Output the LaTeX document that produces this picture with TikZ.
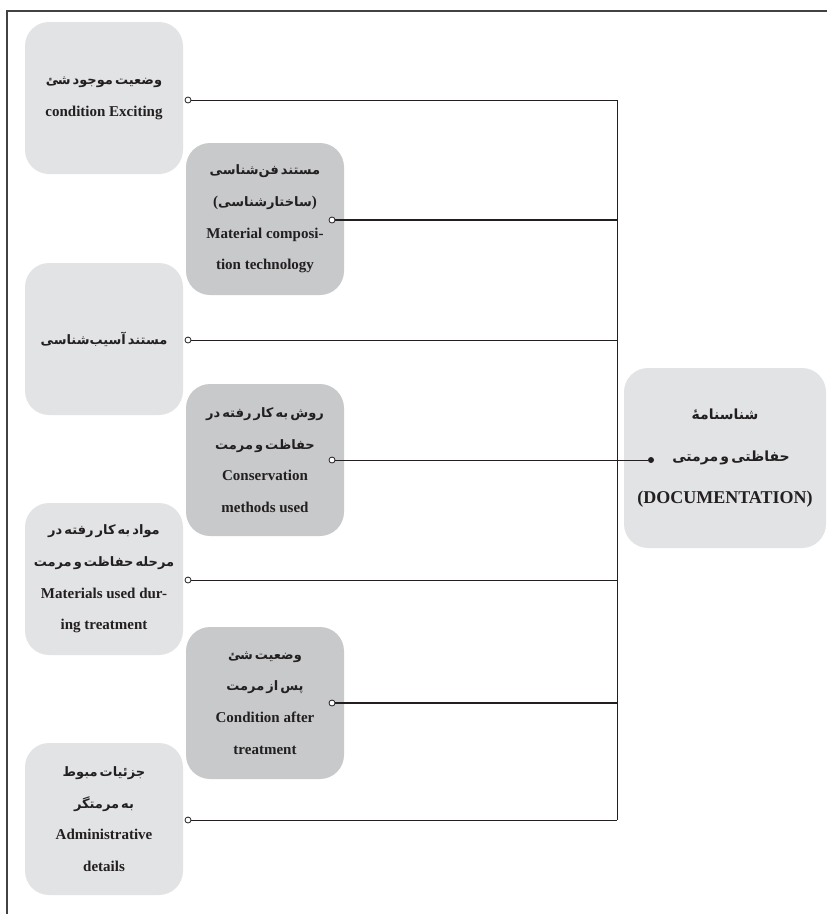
\documentclass[tikz,border=0pt]{standalone}
\usepackage{fontspec}
\setmainfont{Liberation Serif}
\newfontfamily\fa[Script=Arabic, WordSpace=0.45]{DejaVu Sans}
\TeXXeTstate=1
\definecolor{lightbox}{HTML}{E2E3E5}
\definecolor{darkbox}{HTML}{C8C9CB}
\definecolor{ink}{HTML}{231F20}
\newcommand{\fatext}[2][13]{{\fa\bfseries\fontsize{#1}{31.7}\selectfont\beginR #2\endR}}
\tikzset{
  lbox/.style={rounded corners=24pt, fill=lightbox, minimum width=158pt, minimum height=152pt,
    inner sep=0pt, align=center, text=ink, font=\bfseries\fontsize{15}{31.7}\selectfont},
  dbox/.style={lbox, fill=darkbox},
  port/.style={circle, draw=ink, fill=white, inner sep=0pt, minimum size=6pt, line width=0.8pt},
  enddot/.style={circle, fill=ink, inner sep=0pt, minimum size=6pt},
  wire/.style={draw=ink, line width=1pt},
  heavywire/.style={draw=ink, line width=1.5pt},
}
\begin{document}
\begin{tikzpicture}[x=1pt,y=-1pt]
\useasboundingbox (0,0) rectangle (827,914);
% frame
\draw[draw=ink!85, line width=1.2pt] (827,11) -- (7,11) -- (7,914);
% boxes
\node[lbox] (b1) at (104,98) {\fatext{وضعیت موجود شئ}\\ condition Exciting};
\node[dbox] (b2) at (265,219) {\fatext{مستند فن‌شناسی}\\ (\fatext{ساختارشناسی})\\ Material composi-\\ tion technology};
\node[lbox] (b3) at (104,339) {\fatext{مستند آسیب‌شناسی}};
\node[dbox] (b4) at (265,460) {\fatext{روش به کار رفته در}\\ \fatext{حفاظت و مرمت}\\ Conservation\\ methods used};
\node[lbox] (b5) at (104,579) {\fatext{مواد به کار رفته در}\\ \fatext{مرحله حفاظت و مرمت}\\ Materials used dur-\\ ing treatment};
\node[dbox] (b6) at (265,703) {\fatext{وضعیت شئ}\\ \fatext{پس از مرمت}\\ Condition after\\ treatment};
\node[lbox] (b7) at (104,819) {\fatext{جزئیات مبوط}\\ \fatext{به  مرمتگر}\\ Administrative\\ details};
\node[lbox, minimum width=202pt, minimum height=180pt, font=\bfseries\fontsize{18}{42}\selectfont] (doc) at (725,458)
  {\fatext[14]{شناسنامهٔ}\\ \hspace*{12pt}\fatext[14]{حفاظتی و مرمتی}\\ (DOCUMENTATION)};
% ports
\coordinate (busx) at (617,0);
\node[port] (p1) at (188,100) {};
\node[port] (p2) at (332,220) {};
\node[port] (p3) at (188,340) {};
\node[port] (p4) at (332,460) {};
\node[port] (p5) at (188,580) {};
\node[port] (p6) at (332,703) {};
\node[port] (p7) at (188,820) {};
\node[enddot] (dot) at (651,460) {};
% connectors
\draw[wire] (p1) -- (p1 -| busx);
\draw[heavywire] (p2) -- (p2 -| busx);
\draw[wire] (p3) -- (p3 -| busx);
\draw[wire] (p4) -- (dot);
\draw[wire] (p5) -- (p5 -| busx);
\draw[heavywire] (p6) -- (p6 -| busx);
\draw[wire] (p7) -- (p7 -| busx);
\draw[wire] (p1 -| busx) -- (p7 -| busx);
\end{tikzpicture}
\end{document}
